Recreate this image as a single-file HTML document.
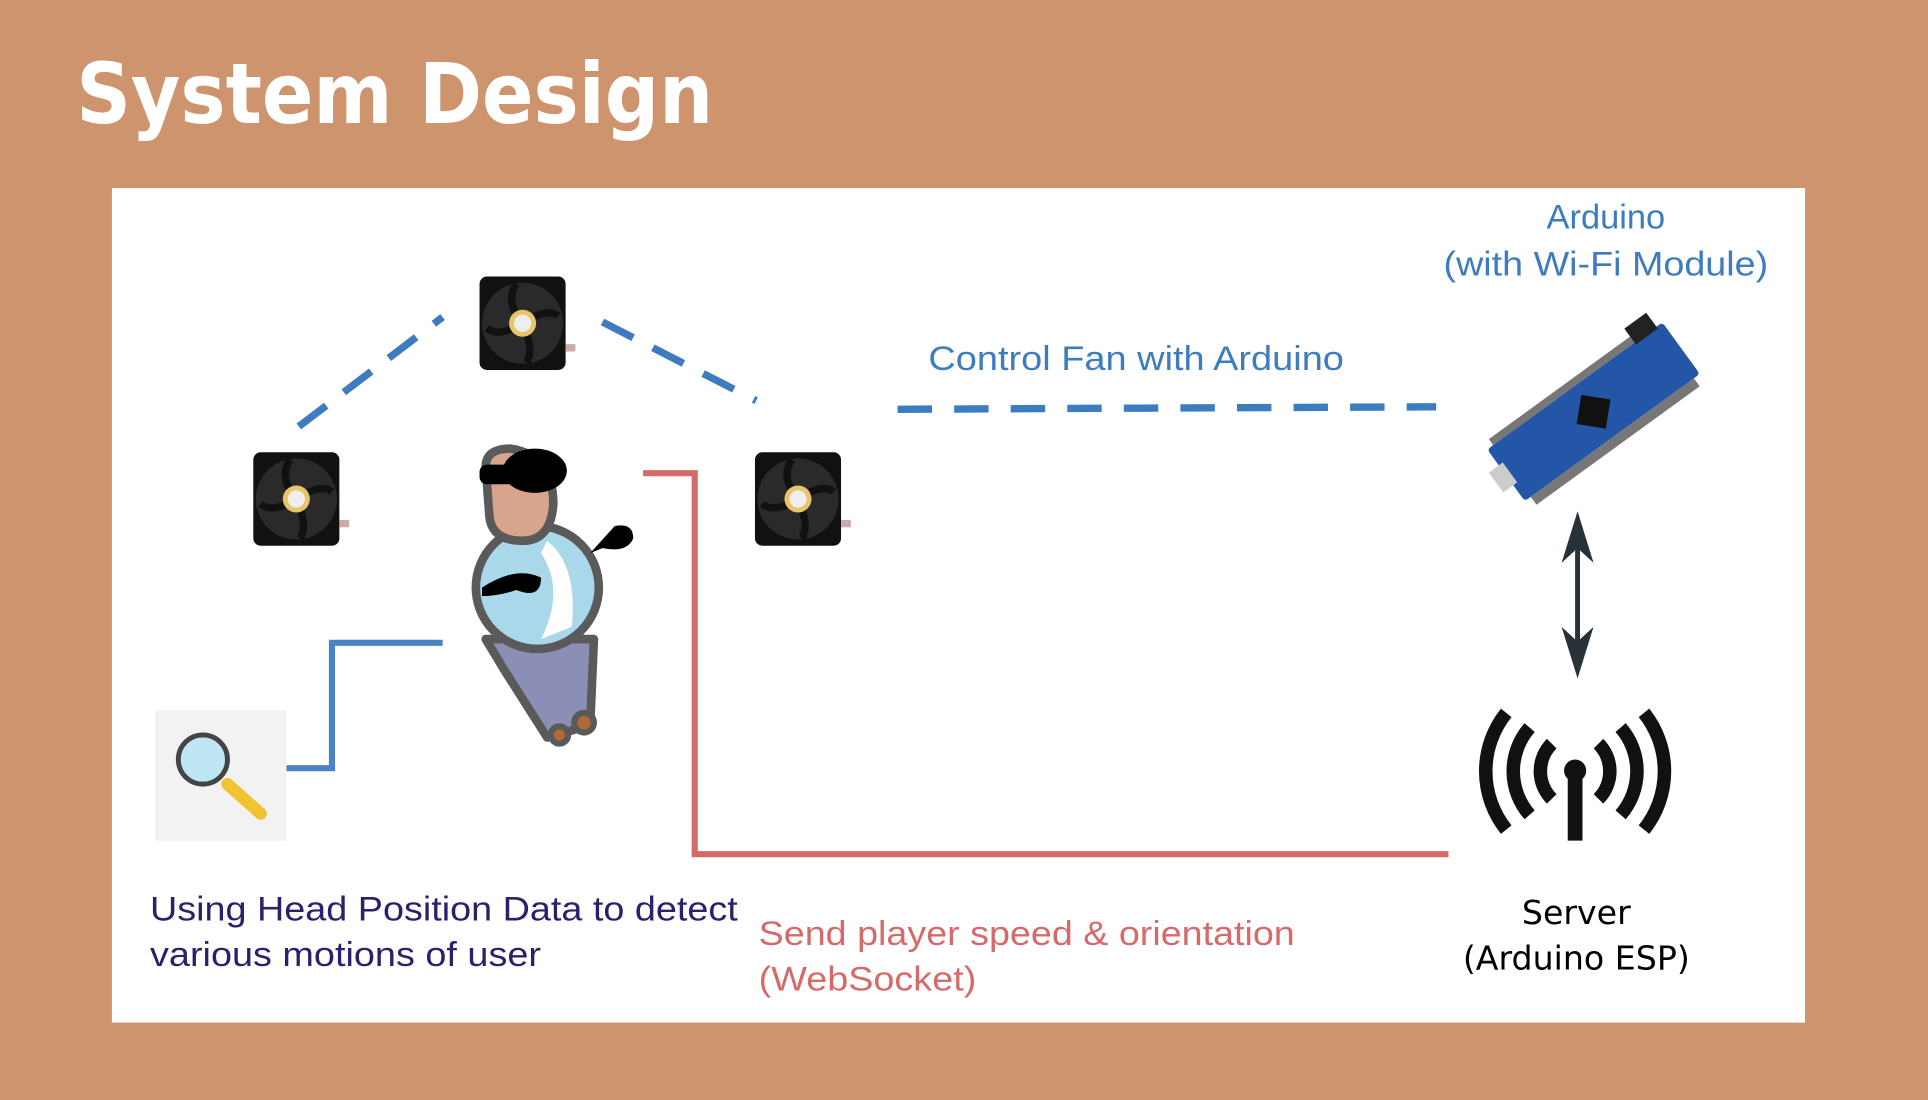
<!DOCTYPE html>
<html><head><meta charset="utf-8"><style>
html,body{margin:0;padding:0;background:#CE946D;}
svg{display:block}
</style></head><body>
<svg width="1928" height="1100" viewBox="0 0 1568 895" preserveAspectRatio="none" xmlns="http://www.w3.org/2000/svg">
<rect width="1568" height="895" fill="#CE946D"/>
<text x="62" y="100" font-family="DejaVu Sans, Liberation Sans, sans-serif" font-weight="bold" font-size="68" fill="#fff" textLength="518" lengthAdjust="spacingAndGlyphs">System Design</text>
<rect x="91" y="153" width="1377" height="679" fill="#fff"/>

<g stroke="#3E7CC0" stroke-width="6" fill="none" stroke-dasharray="28,18">
<line x1="243" y1="347" x2="360" y2="258"/>
<line x1="490" y1="262" x2="615" y2="326"/>
<line x1="730" y1="333" x2="1168" y2="331"/>
</g>
<polyline points="360,523 270,523 270,625 233,625" stroke="#4A83C5" stroke-width="5" fill="none"/>
<polyline points="523,385 565,385 565,695 1178,695" stroke="#D46B6A" stroke-width="5" fill="none"/>

<defs>
<g id="fan">
<rect x="0" y="0" width="70" height="76" rx="6" fill="#111"/>
<circle cx="35" cy="38" r="33" fill="#2a2a2a"/>
<g stroke="#111" stroke-width="6" fill="none">
<path d="M35 38 Q20 20 30 6"/><path d="M35 38 Q55 25 64 32"/><path d="M35 38 Q45 60 38 70"/><path d="M35 38 Q15 50 6 42"/>
</g>
<circle cx="35" cy="38" r="11" fill="#e8c46a"/>
<circle cx="35" cy="38" r="7" fill="#eee"/>
<rect x="70" y="55" width="8" height="6" fill="#caa"/>
</g>
</defs>
<use href="#fan" x="390" y="225"/>
<use href="#fan" x="206" y="368"/>
<use href="#fan" x="614" y="368"/>

<g stroke="#5a5a5a" stroke-width="7" stroke-linejoin="round">
<path d="M410 545 L445 600 L480 590 L483 520 L395 520 Z" fill="#8C8FB5"/>
<ellipse cx="437" cy="478" rx="50" ry="50" fill="#A8D8EA"/>
<path d="M395 380 Q395 365 415 365 Q450 370 450 410 Q448 440 425 440 Q400 440 398 420 Z" fill="#D9A48C"/>
</g>
<path d="M445 440 Q470 460 465 510 L440 520 Q460 480 440 450 Z" fill="#fff"/>
<ellipse cx="435" cy="383" rx="26" ry="18" fill="#000"/>
<rect x="390" y="378" width="40" height="16" rx="6" fill="#000"/>
<path d="M392 478 Q420 460 440 470 Q440 488 420 480 Q405 485 392 485Z" fill="#000"/>
<path d="M480 450 L500 428 Q515 425 515 438 Q510 450 490 446Z" fill="#000"/>
<circle cx="475" cy="588" r="8" fill="#b06a3a" stroke="#5a5a5a" stroke-width="5"/>
<circle cx="455" cy="598" r="7" fill="#b06a3a" stroke="#5a5a5a" stroke-width="5"/>

<rect x="126" y="578" width="107" height="106" fill="#f2f2f2"/>
<line x1="185" y1="638" x2="212" y2="662" stroke="#f0c330" stroke-width="10" stroke-linecap="round"/>
<circle cx="165" cy="618" r="20" fill="#BFE6F5" stroke="#444" stroke-width="4"/>

<g transform="translate(1296,335) rotate(-36)">
<rect x="-88" y="-26" width="176" height="52" rx="3" fill="#2456A8"/>
<g fill="#777"><rect x="-82" y="26" width="164" height="8"/><rect x="-82" y="-32" width="164" height="6"/></g>
<rect x="-12" y="-12" width="24" height="24" fill="#111" transform="rotate(45)"/>
<rect x="60" y="-40" width="22" height="16" fill="#222"/>
<rect x="-98" y="-10" width="14" height="20" fill="#ccc"/>
</g>
<text x="1306" y="186" text-anchor="middle" font-family="Liberation Sans, sans-serif" font-size="28" fill="#3E7CC0">Arduino</text>
<text x="1306" y="224" text-anchor="middle" font-family="Liberation Sans, sans-serif" font-size="28" fill="#3E7CC0" textLength="264" lengthAdjust="spacingAndGlyphs">(with Wi-Fi Module)</text>
<text x="755" y="301" font-family="Liberation Sans, sans-serif" font-size="28" fill="#3E7CC0" textLength="338" lengthAdjust="spacingAndGlyphs">Control Fan with Arduino</text>

<line x1="1283" y1="430" x2="1283" y2="535" stroke="#263238" stroke-width="4"/>
<path d="M1283 416 L1270 458 L1283 446 L1296 458Z" fill="#263238"/>
<path d="M1283 552 L1270 510 L1283 522 L1296 510Z" fill="#263238"/>

<g stroke="#111" fill="none">
<circle cx="1281" cy="627" r="9" fill="#111" stroke="none"/>
<path d="M1275 630 L1287 630 L1287 684 L1275 684Z" fill="#111" stroke="none"/>
<g stroke-width="11">
<path d="M1262 605 A32 32 0 0 0 1262 650"/><path d="M1300 605 A32 32 0 0 1 1300 650"/>
<path d="M1244 592 A54 54 0 0 0 1244 663"/><path d="M1318 592 A54 54 0 0 1 1318 663"/>
<path d="M1225 580 A76 76 0 0 0 1225 675"/><path d="M1337 580 A76 76 0 0 1 1337 675"/>
</g>
</g>
<text x="1282" y="752" text-anchor="middle" font-family="DejaVu Sans, sans-serif" font-size="27" fill="#000">Server</text>
<text x="1282" y="789" text-anchor="middle" font-family="DejaVu Sans, sans-serif" font-size="27" fill="#000">(Arduino ESP)</text>

<text x="122" y="749" font-family="Liberation Sans, sans-serif" font-size="28" fill="#2B1F6E" textLength="478" lengthAdjust="spacingAndGlyphs">Using Head Position Data to detect</text>
<text x="122" y="786" font-family="Liberation Sans, sans-serif" font-size="28" fill="#2B1F6E" textLength="318" lengthAdjust="spacingAndGlyphs">various motions of user</text>
<text x="617" y="769" font-family="Liberation Sans, sans-serif" font-size="28" fill="#D46B6A" textLength="436" lengthAdjust="spacingAndGlyphs">Send player speed &amp; orientation</text>
<text x="617" y="806" font-family="Liberation Sans, sans-serif" font-size="28" fill="#D46B6A" textLength="177" lengthAdjust="spacingAndGlyphs">(WebSocket)</text>
</svg>
</body></html>
